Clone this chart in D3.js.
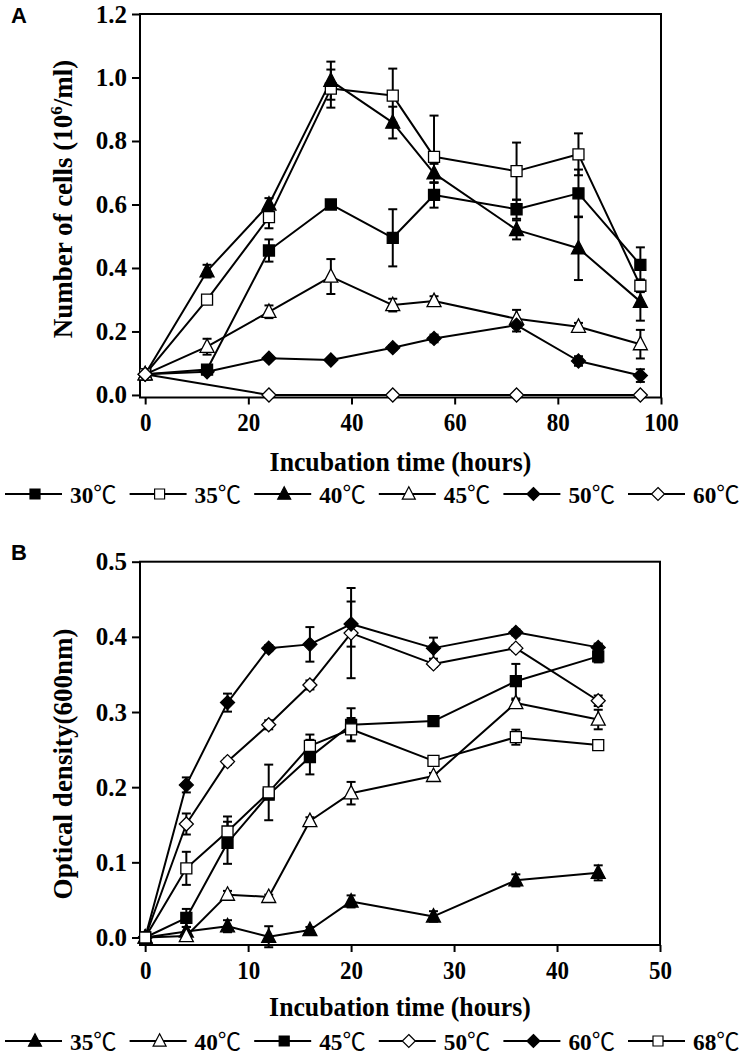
<!DOCTYPE html>
<html><head><meta charset="utf-8">
<script src="https://cdn.jsdelivr.net/npm/d3@7"></script>
<style>
html,body{margin:0;padding:0;background:#fff;}
svg{display:block;}
text{font-family:"Liberation Serif","Times New Roman",serif;font-weight:bold;fill:#000;}
</style></head>
<body>
<svg id="chart" width="746" height="1056"></svg>
<script>
// ---------- Panel A data ----------
const timesA = [0, 12, 24, 36, 48, 56, 72, 84, 96];
const timesA60 = [0, 24, 48, 72, 96];
const labelsA = ["30", "35", "40", "45", "50", "60"];
const a30 = [0.065, 0.08, 0.455, 0.60, 0.495, 0.63, 0.585, 0.635, 0.41];
const a30err = [0.01, 0.01, 0.035, 0.008, 0.09, 0.04, 0.03, 0.075, 0.055];
const a35 = [0.065, 0.30, 0.56, 0.965, 0.943, 0.75, 0.705, 0.758, 0.344];
const a35err = [0.01, 0.01, 0.035, 0.06, 0.085, 0.13, 0.09, 0.066, 0.02];
const a40 = [0.065, 0.39, 0.60, 0.99, 0.858, 0.698, 0.52, 0.462, 0.294];
const a40err = [0.01, 0.02, 0.02, 0.06, 0.05, 0.03, 0.03, 0.10, 0.06];
const a45 = [0.065, 0.152, 0.262, 0.373, 0.283, 0.296, 0.24, 0.215, 0.16];
const a45err = [0.01, 0.025, 0.02, 0.055, 0.02, 0.015, 0.028, 0.012, 0.045];
const a50 = [0.065, 0.073, 0.116, 0.11, 0.149, 0.178, 0.22, 0.107, 0.061];
const a50err = [0.01, 0.005, 0.005, 0.005, 0.008, 0.012, 0.02, 0.015, 0.02];
const a60 = [0.065, 0, 0, 0, 0];
const a60err = [0.01, 0.003, 0.003, 0.003, 0.003];
const ticksAx = [0, 20, 40, 60, 80, 100];
const ticksAy = [0, 0.2, 0.4, 0.6, 0.8, 1.0, 1.2];

// ---------- Panel B data ----------
const timesB = [0, 4, 8, 12, 16, 20, 28, 36, 44];
const labelsB = ["35", "40", "45", "50", "60", "68"];
const b35 = [0, 0.008, 0.015, 0.001, 0.01, 0.048, 0.028, 0.076, 0.086];
const b35err = [0.002, 0.006, 0.008, 0.014, 0.004, 0.008, 0.007, 0.008, 0.01];
const b40 = [0, 0.002, 0.057, 0.054, 0.155, 0.192, 0.215, 0.312, 0.29];
const b40err = [0.002, 0.005, 0.005, 0.003, 0.005, 0.015, 0.004, 0.004, 0.013];
const b45 = [0, 0.026, 0.126, 0.19, 0.24, 0.283, 0.288, 0.341, 0.374];
const b45err = [0.002, 0.012, 0.028, 0.004, 0.023, 0.022, 0.004, 0.023, 0.008];
const b50 = [0, 0.151, 0.234, 0.283, 0.336, 0.405, 0.364, 0.385, 0.315];
const b50err = [0.002, 0.014, 0.004, 0.006, 0.006, 0.06, 0.004, 0.004, 0.007];
const b60 = [0, 0.203, 0.3125, 0.385, 0.39, 0.417, 0.385, 0.406, 0.386];
const b60err = [0.002, 0.01, 0.012, 0.004, 0.023, 0.03, 0.014, 0.004, 0.005];
const b68 = [0, 0.092, 0.141, 0.193, 0.255, 0.277, 0.235, 0.2665, 0.256];
const b68err = [0.002, 0.022, 0.02, 0.037, 0.015, 0.015, 0.004, 0.01, 0.003];
const ticksBx = [0, 10, 20, 30, 40, 50];
const ticksBy = [0, 0.1, 0.2, 0.3, 0.4, 0.5];

// ---------- marker shapes ----------
const shapes = {
  square: s => `M${-s/2},${-s/2}h${s}v${s}h${-s}Z`,
  triangle: s => `M0,${-s*0.56}L${s/2},${s*0.4}L${-s/2},${s*0.4}Z`,
  diamond: s => `M0,${-s/2}L${s/2},0L0,${s/2}L${-s/2},0Z`
};

const svg = d3.select("#chart");

function sText(g, x, y, str, size, anchor, sx) {
  return g.append("text")
    .attr("transform", `translate(${x},${y}) scale(${sx},1)`)
    .attr("text-anchor", anchor)
    .style("font-size", size + "px")
    .text(str);
}

function drawPanel(cfg) {
  const g = svg.append("g");
  const x = d3.scaleLinear().domain(cfg.xDomain).range([cfg.left, cfg.right]);
  const y = d3.scaleLinear().domain(cfg.yDomain).range([cfg.bottom, cfg.top]);

  // axes
  const ya = g.append("g").attr("transform", `translate(${cfg.left},0)`)
    .call(d3.axisLeft(y).tickValues(cfg.yTicks).tickFormat(d3.format(".1f")).tickSize(8).tickPadding(5).tickSizeOuter(0));
  ya.select(".domain").remove();
  ya.selectAll("line").attr("stroke", "#000").attr("stroke-width", 2);
  ya.selectAll("text").style("font-size", "25px").style("font-family", null);

  const xa = g.append("g").attr("transform", `translate(0,${cfg.bottom})`)
    .call(d3.axisBottom(x).tickValues(cfg.xTicks).tickFormat(d3.format("d")).tickSize(7).tickPadding(9).tickSizeOuter(0));
  xa.select(".domain").remove();
  xa.selectAll("line").attr("stroke", "#000").attr("stroke-width", 2);
  xa.selectAll("text").style("font-size", "25px").style("font-family", null)
    .attr("transform", "scale(0.92,1)");

  // frame
  g.append("rect").attr("x", cfg.left).attr("y", cfg.top)
    .attr("width", cfg.right - cfg.left).attr("height", cfg.bottom - cfg.top)
    .attr("fill", "none").attr("stroke", "#000").attr("stroke-width", 2);

  const line = d3.line().x(d => x(d.t)).y(d => y(d.v));
  const series = cfg.series.map(s => ({...s, pts: s.times.map((t, i) => ({t, v: s.vals[i], e: s.errs[i]}))}));

  // error bars
  series.forEach(s => {
    const eg = g.append("g").attr("stroke", "#000").attr("stroke-width", 2);
    s.pts.forEach(p => {
      const xx = x(p.t), y1 = y(p.v - p.e), y2 = y(p.v + p.e);
      eg.append("line").attr("x1", xx).attr("x2", xx).attr("y1", y1).attr("y2", y2);
      eg.append("line").attr("x1", xx - 4.5).attr("x2", xx + 4.5).attr("y1", y1).attr("y2", y1);
      eg.append("line").attr("x1", xx - 4.5).attr("x2", xx + 4.5).attr("y1", y2).attr("y2", y2);
    });
  });
  // lines
  series.forEach(s => {
    g.append("path").attr("d", line(s.pts)).attr("fill", "none")
      .attr("stroke", "#000").attr("stroke-width", 2).attr("stroke-linejoin", "round");
  });
  // markers
  series.forEach(s => {
    g.selectAll(null).data(s.pts).enter().append("path")
      .attr("transform", d => `translate(${x(d.t)},${y(d.v)})`)
      .attr("d", shapes[s.shape](s.shape === "square" ? 11 : 14))
      .attr("fill", s.filled ? "#000" : "#fff")
      .attr("stroke", "#000").attr("stroke-width", 1.3);
  });

  // panel letter
  g.append("text").attr("x", 11).attr("y", cfg.letterY)
    .style("font-family", "'Liberation Sans', Arial, sans-serif")
    .style("font-size", "22px").text(cfg.letter);

  // axis titles
  sText(g, (cfg.left + cfg.right) / 2, cfg.xTitleY, "Incubation time (hours)", 28, "middle", 0.92);
  const yt = g.append("text")
    .attr("transform", `translate(72,${cfg.yTitleCY}) rotate(-90)`)
    .attr("text-anchor", "middle").style("font-size", "27px");
  cfg.yTitle(yt);

  // legend
  series.forEach((s, i) => {
    const x0 = 5 + i * 124.6;
    const lg = g.append("g").attr("transform", `translate(${x0},${cfg.legendY})`);
    lg.append("line").attr("x1", 0).attr("x2", 57).attr("y1", 0).attr("y2", 0)
      .attr("stroke", "#000").attr("stroke-width", 2);
    lg.append("path").attr("transform", "translate(30,0)")
      .attr("d", shapes[s.shape](s.shape === "square" ? 10 : 13))
      .attr("fill", s.filled ? "#000" : "#fff").attr("stroke", "#000").attr("stroke-width", 1.2);
    const t = lg.append("text").attr("transform", "translate(65,8.5) scale(0.97,1)")
      .style("font-size", "24px");
    t.append("tspan").text(s.label);
    t.append("tspan").style("font-family", "'Noto Sans CJK SC', sans-serif")
      .style("font-weight", "normal").text("℃");
  });
}

drawPanel({
  letter: "A", letterY: 23,
  left: 140, right: 661, top: 14, bottom: 397.5,
  xDomain: [-1, 100], yDomain: [-0.008, 1.2],
  xTicks: ticksAx, yTicks: ticksAy,
  xTitleY: 471, yTitleCY: 199, legendY: 494,
  yTitle: t => {
    t.append("tspan").text("Number of cells (10");
    t.append("tspan").attr("dy", -10).style("font-size", "17px").text("6");
    t.append("tspan").attr("dy", 10).text("/ml)");
  },
  series: [
    {label: labelsA[0], times: timesA, vals: a30, errs: a30err, shape: "square", filled: true},
    {label: labelsA[1], times: timesA, vals: a35, errs: a35err, shape: "square", filled: false},
    {label: labelsA[2], times: timesA, vals: a40, errs: a40err, shape: "triangle", filled: true},
    {label: labelsA[3], times: timesA, vals: a45, errs: a45err, shape: "triangle", filled: false},
    {label: labelsA[4], times: timesA, vals: a50, errs: a50err, shape: "diamond", filled: true},
    {label: labelsA[5], times: timesA60, vals: a60, errs: a60err, shape: "diamond", filled: false}
  ]
});

drawPanel({
  letter: "B", letterY: 560,
  left: 140, right: 660, top: 561.7, bottom: 945,
  xDomain: [-0.5, 50], yDomain: [-0.01, 0.5],
  xTicks: ticksBx, yTicks: ticksBy,
  xTitleY: 1016, yTitleCY: 764, legendY: 1041,
  yTitle: t => { t.text("Optical density(600nm)"); },
  series: [
    {label: labelsB[0], times: timesB, vals: b35, errs: b35err, shape: "triangle", filled: true},
    {label: labelsB[1], times: timesB, vals: b40, errs: b40err, shape: "triangle", filled: false},
    {label: labelsB[2], times: timesB, vals: b45, errs: b45err, shape: "square", filled: true},
    {label: labelsB[3], times: timesB, vals: b50, errs: b50err, shape: "diamond", filled: false},
    {label: labelsB[4], times: timesB, vals: b60, errs: b60err, shape: "diamond", filled: true},
    {label: labelsB[5], times: timesB, vals: b68, errs: b68err, shape: "square", filled: false}
  ]
});
</script>
</body></html>
